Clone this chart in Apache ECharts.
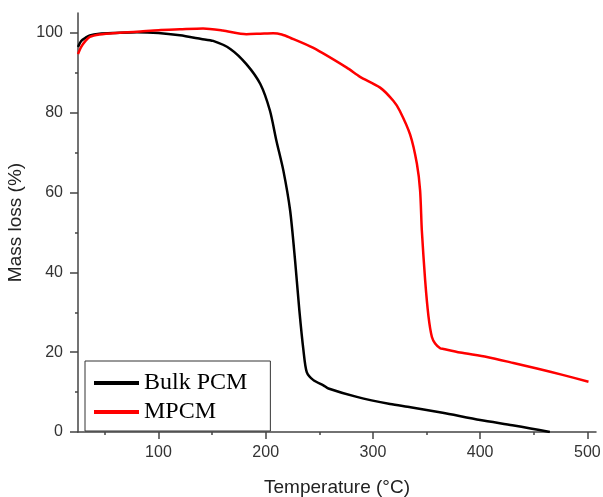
<!DOCTYPE html>
<html>
<head>
    <meta charset="utf-8" />
    <title>TGA curves</title>
    <script src="https://cdn.jsdelivr.net/npm/echarts@6.0.0/dist/echarts.min.js"></script>
    <style>
        html, body { margin: 0; padding: 0; background: #fff; }
        #chart { width: 603px; height: 497px; }
    </style>
</head>
<body>
    <div id="chart"></div>
    <script type="text/javascript">
        // values
        const bulkTemp = [25, 28, 32, 36, 45, 60, 80, 100, 120, 140, 151, 167, 182, 195, 204, 210, 216.5, 222.8, 227.4, 231.4, 235.2, 238.3, 244.5, 253.8, 258.5, 285, 316, 335, 365, 400, 430, 447, 465];
        const bulkMass = [96.5, 98, 98.8, 99.4, 99.8, 100, 100.2, 100, 99.4, 98.5, 98, 96, 92.2, 87.2, 80.5, 73, 65.5, 55.5, 43, 30.5, 20.5, 15, 13, 11.7, 10.9, 8.8, 7, 6.2, 4.8, 3, 1.7, 0.9, 0];

        const mpcmTemp = [25, 28, 32, 36, 45, 60, 80, 100, 120, 141.6, 160, 182, 195, 207, 215, 222.8, 244, 275.6, 288, 306.7, 319, 325, 334.7, 341, 344, 345.6, 348.7, 351.8, 355, 358, 362.7, 365.8, 381.3, 406.3, 431, 452.9, 477.7, 501];
        const mpcmMass = [94.7, 96.5, 98, 99, 99.6, 100, 100.3, 100.7, 100.9, 101.1, 100.6, 99.7, 99.8, 99.9, 99.6, 98.8, 96.3, 91.3, 89, 86.3, 83, 80.5, 74.5, 67.2, 60.5, 50.5, 38, 29, 23.8, 22.2, 21, 20.8, 19.9, 18.8, 17.3, 15.9, 14.25, 12.6];

        const xMajor = [100, 200, 300, 400, 500];
        const xMinor = [50, 150, 250, 350, 450];
        const yMajor = [0, 20, 40, 60, 80, 100];
        const yMinor = [10, 30, 50, 70, 90];

        const chart = echarts.init(document.getElementById('chart'));

        const zip = (xs, ys) => xs.map((x, i) => [x, ys[i]]);
        const axisColor = '#444';
        const labelFont = 'Liberation Sans, Arial, sans-serif';

        let option = {
            animation: false,
            grid: { left: 78, right: 7, top: 13, bottom: 65, containLabel: false, outerBoundsMode: 'none' },
            legend: {
                orient: 'vertical',
                left: 85,
                top: 361,
                padding: [10, 23, 7, 9],
                itemGap: 5,
                itemWidth: 45,
                itemHeight: 4,
                icon: 'rect',
                borderColor: '#333',
                borderWidth: 1,
                backgroundColor: '#fff',
                textStyle: { fontFamily: 'Liberation Serif, Times New Roman, serif', fontSize: 24, color: '#000' },
                data: ['Bulk PCM', 'MPCM']
            },
            xAxis: [
                {
                    type: 'value', min: 25, max: 508, position: 'bottom',
                    name: 'Temperature (°C)', nameLocation: 'middle', nameGap: 46,
                    nameTextStyle: { fontFamily: labelFont, fontSize: 19, color: '#222' },
                    axisLine: { show: true, onZero: false, lineStyle: { color: axisColor, width: 1.5 } },
                    axisTick: { show: true, length: 7, customValues: xMajor, lineStyle: { color: axisColor, width: 1.5 } },
                    axisLabel: { customValues: xMajor, margin: 13, fontFamily: labelFont, fontSize: 16, color: '#333' },
                    splitLine: { show: false }
                },
                {
                    type: 'value', min: 25, max: 508, position: 'bottom',
                    axisLine: { show: false, onZero: false },
                    axisTick: { show: true, length: 3, customValues: xMinor, lineStyle: { color: axisColor, width: 1.5 } },
                    axisLabel: { show: false },
                    splitLine: { show: false }
                }
            ],
            yAxis: [
                {
                    type: 'value', min: 0, max: 105, position: 'left',
                    name: 'Mass loss (%)', nameLocation: 'middle', nameGap: 48,
                    nameTextStyle: { fontFamily: labelFont, fontSize: 19, color: '#222' },
                    axisLine: { show: true, onZero: false, lineStyle: { color: axisColor, width: 1.5 } },
                    axisTick: { show: true, length: 8, customValues: yMajor, lineStyle: { color: axisColor, width: 1.5 } },
                    axisLabel: { customValues: yMajor, margin: 15, fontFamily: labelFont, fontSize: 16, color: '#333' },
                    splitLine: { show: false }
                },
                {
                    type: 'value', min: 0, max: 105, position: 'left',
                    axisLine: { show: false, onZero: false },
                    axisTick: { show: true, length: 3, customValues: yMinor, lineStyle: { color: axisColor, width: 1.5 } },
                    axisLabel: { show: false },
                    splitLine: { show: false }
                }
            ],
            series: [
                {
                    name: 'Bulk PCM', type: 'line', showSymbol: false,
                    smooth: 0.25,
                    color: '#000',
                    lineStyle: { color: '#000', width: 2.5 },
                    data: zip(bulkTemp, bulkMass)
                },
                {
                    name: 'MPCM', type: 'line', showSymbol: false,
                    smooth: 0.25,
                    color: '#ff0000',
                    lineStyle: { color: '#ff0000', width: 2.5 },
                    data: zip(mpcmTemp, mpcmMass)
                }
            ]
        };

        chart.setOption(option);
    </script>
</body>
</html>
